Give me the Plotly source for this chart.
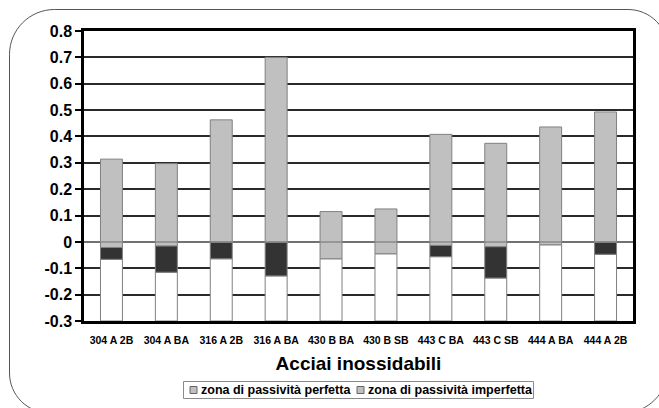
import plotly.graph_objects as go

# ---- data ----
categories = ["304 A 2B", "304 A BA", "316 A 2B", "316 A BA", "430 B BA",
              "430 B SB", "443 C BA", "443 C SB", "444 A BA", "444 A 2B"]
# top of the light-grey segment
top_value = [0.314, 0.297, 0.463, 0.700, 0.115, 0.125, 0.408, 0.374, 0.436, 0.493]
# boundary between dark and light-grey segments
dark_top = [-0.021, -0.015, 0.0, 0.0, -0.064, -0.045, -0.013, -0.018, -0.011, 0.0]
# boundary between white and dark segments
white_top = [-0.066, -0.115, -0.064, -0.129, -0.064, -0.045, -0.056, -0.137, -0.011, -0.047]
axis_min = -0.3
y_ticks = [0.8, 0.7, 0.6, 0.5, 0.4, 0.3, 0.2, 0.1, 0, -0.1, -0.2, -0.3]
y_tick_text = ["0.8", "0.7", "0.6", "0.5", "0.4", "0.3", "0.2", "0.1", "0", "-0.1", "-0.2", "-0.3"]
legend_names = ["zona di passività perfetta", "zona di passività imperfetta"]

W, H = 659, 408
ML, MR, MT, MB = 84, 26, 31, 87
PW, PH = W - ML - MR, H - MT - MB

def nz(v):
    return [None if abs(x) < 1e-9 else x for x in v]

white_h = nz([w - axis_min for w in white_top])
dark_h = nz([d - w for d, w in zip(dark_top, white_top)])
grey_h = nz([t - d for t, d in zip(top_value, dark_top)])

outline = dict(color="#808080", width=1)
fig = go.Figure()
fig.add_trace(go.Bar(x=categories, y=white_h, base=[axis_min] * len(categories),
                     marker=dict(color="#ffffff", line=outline), showlegend=False, width=0.4))
fig.add_trace(go.Bar(x=categories, y=dark_h, base=white_top, name=legend_names[1],
                     marker=dict(color="#333333", line=outline), showlegend=False, width=0.4))
fig.add_trace(go.Bar(x=categories, y=grey_h, base=dark_top, name=legend_names[0],
                     marker=dict(color="#c0c0c0", line=outline), showlegend=False, width=0.4))

def px(x):
    return (x - ML) / PW

def py(y):
    return (H - MB - y) / PH

# rounded outer frame
L, T, R, B = 9.5, 9.5, 668, 413
k = 0.5523
def corner_path():
    r1, r2, r3, r4 = 45, 40, 45, 40  # tl, tr, br, bl
    pts = []
    pts.append(f"M {px(L)},{py(T + r1)}")
    pts.append(f"C {px(L)},{py(T + r1 - k * r1)} {px(L + r1 - k * r1)},{py(T)} {px(L + r1)},{py(T)}")
    pts.append(f"L {px(R - r2)},{py(T)}")
    pts.append(f"C {px(R - r2 + k * r2)},{py(T)} {px(R)},{py(T + r2 - k * r2)} {px(R)},{py(T + r2)}")
    pts.append(f"L {px(R)},{py(B - r3)}")
    pts.append(f"C {px(R)},{py(B - r3 + k * r3)} {px(R - r3 + k * r3)},{py(B)} {px(R - r3)},{py(B)}")
    pts.append(f"L {px(L + r4)},{py(B)}")
    pts.append(f"C {px(L + r4 - k * r4)},{py(B)} {px(L)},{py(B - r4 + k * r4)} {px(L)},{py(B - r4)}")
    pts.append("Z")
    return " ".join(pts)

fig.add_shape(type="path", path=corner_path(), xref="paper", yref="paper",
              line=dict(color="#555555", width=1), layer="below")
# zero line drawn over the bars
fig.add_shape(type="line", xref="paper", yref="y", x0=0, x1=1, y0=0, y1=0,
              line=dict(color="#8a8a8a", width=1.5), layer="above")

font_family = "Liberation Sans, Arial, sans-serif"

# legend box (Excel-style, compact)
fig.add_shape(type="rect", xref="paper", yref="paper",
              x0=px(183.5), x1=px(533.5), y0=py(398.5), y1=py(381.5),
              line=dict(color="#8a8a8a", width=1), fillcolor="white")
legend_swatch_x = [190, 357]
legend_text_x = [199, 366]
for sx, tx, name in zip(legend_swatch_x, legend_text_x, legend_names):
    fig.add_shape(type="rect", xref="paper", yref="paper",
                  x0=px(sx), x1=px(sx + 7), y0=py(393.5), y1=py(386.5),
                  line=dict(color="#666666", width=1), fillcolor="#c0c0c0")
    fig.add_annotation(xref="paper", yref="paper", x=px(tx), y=py(390),
                       xanchor="left", yanchor="middle", showarrow=False,
                       text=f"<b>{name}</b>",
                       font=dict(size=12.5, family=font_family, color="black"))

fig.update_layout(
    width=W, height=H,
    margin=dict(l=ML, r=MR, t=MT, b=MB, autoexpand=False),
    paper_bgcolor="white", plot_bgcolor="white",
    barmode="overlay",
    font=dict(family=font_family, color="black"),
    xaxis=dict(
        type="category", showgrid=False, showline=True, linecolor="black", linewidth=2.5,
        mirror=True, ticks="", tickfont=dict(size=10.5, family=font_family, weight="bold"),
        ticklabelstandoff=8,
        title=dict(text="<b>Acciai inossidabili</b>", font=dict(size=19), standoff=12),
    ),
    yaxis=dict(
        range=[-0.3, 0.8], tickvals=y_ticks, ticktext=y_tick_text,
        showgrid=True, gridcolor="#2a2a2a", gridwidth=2, zeroline=False,
        showline=True, linecolor="black", linewidth=2.5, mirror=True,
        ticks="outside", ticklen=6, tickwidth=2, tickcolor="black",
        tickfont=dict(size=16, family=font_family, weight="bold"),
    ),
    showlegend=False,
)

fig.write_html("out.html")
